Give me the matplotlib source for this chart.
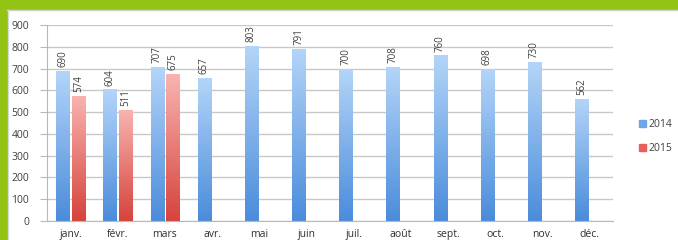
import numpy as np
import matplotlib.pyplot as plt
from matplotlib.patches import Rectangle, Patch
from matplotlib.colors import LinearSegmentedColormap

plt.rcParams['font.family'] = ['Open Sans', 'DejaVu Sans']

months = ['janv.', 'févr.', 'mars', 'avr.', 'mai', 'juin',
          'juil.', 'août', 'sept.', 'oct.', 'nov.', 'déc.']
vals_2014 = [690, 604, 707, 657, 803, 791, 700, 708, 760, 698, 730, 562]
vals_2015 = [574, 511, 675]
yticks = [0, 100, 200, 300, 400, 500, 600, 700, 800, 900]

blue_cm = LinearSegmentedColormap.from_list('b', ['#4a8cdb', '#b4d5f8'])
red_cm = LinearSegmentedColormap.from_list('r', ['#d6433c', '#f9b4b0'])
grad = np.linspace(0, 1, 256).reshape(-1, 1)

fig = plt.figure(figsize=(6.78, 2.40), dpi=100)
# green frame on top and left
fig.patches.append(Rectangle((0, 1 - 9 / 240), 1, 9 / 240, transform=fig.transFigure,
                             color='#93c414', zorder=0))
fig.patches.append(Rectangle((0, 0), 7 / 678, 1, transform=fig.transFigure,
                             color='#93c414', zorder=0))
fig.add_artist(plt.Line2D([7 / 678, 1], [1 - 10 / 240] * 2, transform=fig.transFigure,
                          color='#d0d0d0', lw=1))
fig.add_artist(plt.Line2D([8 / 678] * 2, [0, 1 - 10 / 240], transform=fig.transFigure,
                          color='#d8d8d8', lw=1))

ax = fig.add_axes([47 / 678, 1 - 221 / 240, 566 / 678, 196 / 240])
ax.set_xlim(0, 12)
ax.set_ylim(0, 900)

w = 0.28


def grad_bar(x0, h, cm):
    bar = ax.bar(x0, h, width=w, align='center', color='none', edgecolor='none', zorder=2)[0]
    im = ax.imshow(grad, cmap=cm, origin='lower', aspect='auto',
                   extent=(x0 - w / 2, x0 + w / 2, 0, h), zorder=2)
    im.set_clip_path(bar)
    ax.text(x0, h + 18, str(h), rotation=90, ha='center', va='bottom',
            fontsize=7, color='#404040', zorder=3)


for i, v in enumerate(vals_2014):
    grad_bar(i + 0.5 - 0.165, v, blue_cm)
for i, v in enumerate(vals_2015):
    grad_bar(i + 0.5 + 0.165, v, red_cm)

ax.set_xlim(0, 12)
ax.set_ylim(0, 900)
ax.set_yticks(yticks)
ax.set_yticklabels([str(t) for t in yticks], fontsize=7.5, color='#404040')
ax.set_xticks(np.arange(12) + 0.5)
ax.set_xticklabels(months, fontsize=7.5, color='#303030')
ax.tick_params(axis='x', length=0, pad=6)
ax.tick_params(axis='y', length=5, color='#b8b8b8', pad=8)
ax.yaxis.grid(True, color='#c8c8c8', lw=1)
ax.set_axisbelow(True)
for s in ['top', 'right']:
    ax.spines[s].set_visible(False)
ax.spines['left'].set_color('#b8b8b8')
ax.spines['bottom'].set_color('#b8b8b8')

handles = [Patch(color='#6aa6e8', label='2014'), Patch(color='#e8605a', label='2015')]
fig.legend(handles=handles, loc='upper left', bbox_to_anchor=(630 / 678, 1 - 110 / 240),
           frameon=False, fontsize=7.5, handlelength=0.6, handleheight=0.6,
           handletextpad=0.3, labelspacing=1.2, labelcolor='#404040')

fig.savefig('out.png', dpi=100)
